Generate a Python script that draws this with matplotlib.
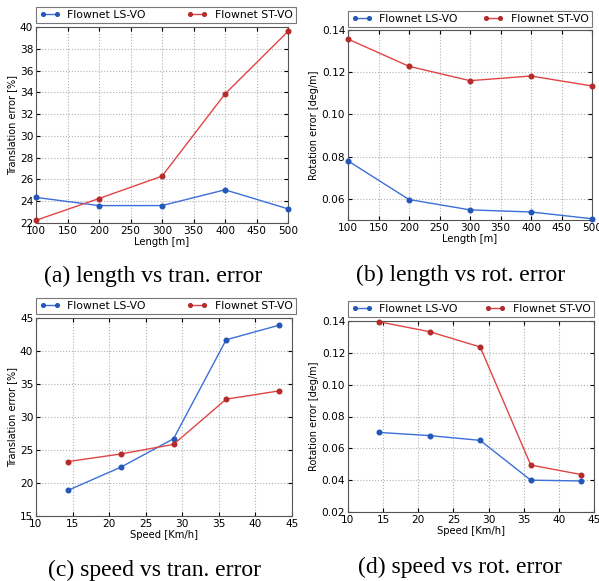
import matplotlib
matplotlib.use("Agg")
import matplotlib.pyplot as plt

# data
lengths = [100, 200, 300, 400, 500]
speeds = [14.4, 21.6, 28.8, 36.0, 43.2]

len_tran_ls = [24.35, 23.6, 23.6, 25.05, 23.3]
len_tran_st = [22.25, 24.25, 26.3, 33.85, 39.6]

len_rot_ls = [0.078, 0.0597, 0.0548, 0.0538, 0.0506]
len_rot_st = [0.1357, 0.1228, 0.1160, 0.1182, 0.1135]

spd_tran_ls = [18.9, 22.4, 26.7, 41.7, 43.9]
spd_tran_st = [23.25, 24.4, 25.85, 32.7, 33.95]

spd_rot_ls = [0.070, 0.068, 0.065, 0.040, 0.0395]
spd_rot_st = [0.1395, 0.1333, 0.1237, 0.0495, 0.0435]

labels = ["Flownet LS-VO", "Flownet ST-VO"]
captions = ["(a) length vs tran. error", "(b) length vs rot. error",
            "(c) speed vs tran. error", "(d) speed vs rot. error"]

W, H = 599, 581
fig = plt.figure(figsize=(W / 100, H / 100), dpi=100)


def px_box(l, r, t, b):
    return [l / W, (H - b) / H, (r - l) / W, (b - t) / H]


def panel(box, leg, x, ls, st, xlim, ylim, yticks, xticks, xlabel, ylabel, yfmt):
    ax = fig.add_axes(px_box(*box))
    ax.plot(x, ls, color="#3c6fd8", lw=1.0, marker="o", ms=3.3,
            mfc="#2356b8", mec="#2356b8", label=labels[0], clip_on=False, zorder=3)
    ax.plot(x, st, color="#e04545", lw=1.0, marker="o", ms=3.3,
            mfc="#b52a2a", mec="#b52a2a", label=labels[1], clip_on=False, zorder=3)
    ax.set_xlim(*xlim)
    ax.set_ylim(*ylim)
    ax.set_xticks(xticks)
    ax.set_yticks(yticks)
    ax.set_yticklabels([yfmt.format(v) for v in yticks])
    ax.grid(True, ls=":", color="#b0b0b0", lw=0.8)
    ax.tick_params(direction="in", labelsize=7.6, length=3, top=True, right=True, pad=2)
    ax.set_xlabel(xlabel, fontsize=7.2, labelpad=1)
    ax.set_ylabel(ylabel, fontsize=7, labelpad=2)
    for s in ax.spines.values():
        s.set_color("#555555")
    l, r, t, b = leg
    lg = ax.legend(loc="lower left", bbox_to_anchor=(l / W, (H - b) / H, (r - l) / W, (b - t) / H),
                   bbox_transform=fig.transFigure, mode="expand", ncol=2, fontsize=7.8,
                   numpoints=2, markerscale=0.8, fancybox=False, borderaxespad=0,
                   borderpad=0.3, handlelength=1.9, handletextpad=0.7, columnspacing=1.0)
    lg.get_frame().set_edgecolor("#555555")
    lg.get_frame().set_linewidth(0.8)
    return ax


panel((36, 288, 27, 223), (36, 296, 6, 23), lengths, len_tran_ls, len_tran_st,
      (100, 500), (22, 40), list(range(22, 41, 2)), list(range(100, 501, 50)),
      "Length [m]", "Translation error [%]", "{:d}")
panel((348, 592, 30, 220), (348, 592, 9, 27), lengths, len_rot_ls, len_rot_st,
      (100, 500), (0.05, 0.14), [0.06, 0.08, 0.10, 0.12, 0.14], list(range(100, 501, 50)),
      "Length [m]", "Rotation error [deg/m]", "{:.2f}")
panel((36, 292, 318, 516), (36, 296, 296, 314), speeds, spd_tran_ls, spd_tran_st,
      (10, 45), (15, 45), list(range(15, 46, 5)), list(range(10, 46, 5)),
      "Speed [Km/h]", "Translation error [%]", "{:d}")
panel((348, 594, 321, 512), (348, 594, 299, 317), speeds, spd_rot_ls, spd_rot_st,
      (10, 45), (0.02, 0.14), [0.02, 0.04, 0.06, 0.08, 0.10, 0.12, 0.14], list(range(10, 46, 5)),
      "Speed [Km/h]", "Rotation error [deg/m]", "{:.2f}")

cap_pos = [(153, 276), (461, 275), (154, 570), (460, 567)]
for (cx, cy), txt in zip(cap_pos, captions):
    fig.text(cx / W, (H - cy) / H, txt, ha="center", va="center",
             family="Liberation Serif", fontsize=17)

fig.savefig("out.png", dpi=100)
